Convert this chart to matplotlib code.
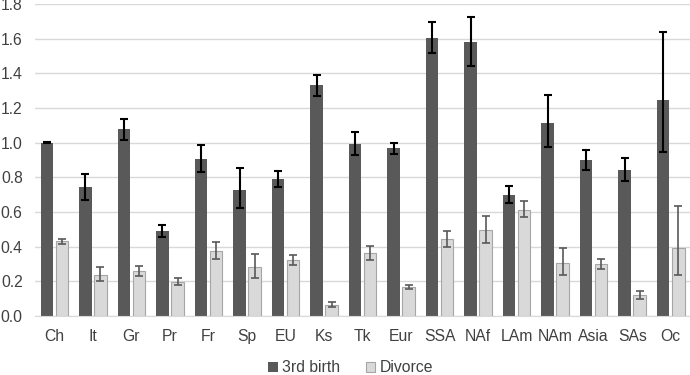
import numpy as np
import matplotlib
matplotlib.use("Agg")
import matplotlib.pyplot as plt

plt.rcParams['font.family'] = ['Liberation Sans', 'DejaVu Sans']

labels = ['Ch', 'It', 'Gr', 'Pr', 'Fr', 'Sp', 'EU', 'Ks', 'Tk', 'Eur',
          'SSA', 'NAf', 'LAm', 'NAm', 'Asia', 'SAs', 'Oc']

birth = [1.00, 0.743, 1.077, 0.492, 0.904, 0.729, 0.790, 1.331, 0.994, 0.969,
         1.602, 1.579, 0.698, 1.115, 0.900, 0.842, 1.246]
birth_lo = [0.997, 0.669, 1.015, 0.458, 0.829, 0.621, 0.745, 1.269, 0.929, 0.937,
            1.516, 1.444, 0.650, 0.977, 0.842, 0.779, 0.944]
birth_hi = [1.003, 0.819, 1.139, 0.525, 0.985, 0.852, 0.835, 1.393, 1.062, 1.000,
            1.694, 1.728, 0.752, 1.273, 0.958, 0.912, 1.640]

divorce = [0.431, 0.240, 0.262, 0.198, 0.373, 0.281, 0.321, 0.067, 0.362, 0.167,
           0.444, 0.496, 0.615, 0.304, 0.298, 0.119, 0.391]
divorce_lo = [0.417, 0.202, 0.233, 0.177, 0.329, 0.218, 0.294, 0.054, 0.323, 0.158,
              0.398, 0.423, 0.569, 0.237, 0.269, 0.098, 0.237]
divorce_hi = [0.444, 0.284, 0.292, 0.221, 0.425, 0.360, 0.350, 0.081, 0.402, 0.179,
              0.492, 0.577, 0.665, 0.392, 0.331, 0.144, 0.637]

x = np.arange(len(labels))
b = np.array(birth)
d = np.array(divorce)
b_err = [b - np.array(birth_lo), np.array(birth_hi) - b]
d_err = [d - np.array(divorce_lo), np.array(divorce_hi) - d]

fig = plt.figure(figsize=(6.9, 3.75), dpi=100)
ax = fig.add_axes([0.051, 0.157, 0.949, 0.832])

w = 0.325
ax.bar(x - 0.195, b, w, color='#595959', label='3rd birth', zorder=2,
       yerr=b_err, error_kw=dict(ecolor='black', elinewidth=1.5, capsize=2.8, capthick=1.5))
ax.bar(x + 0.195, d, w, color='#d9d9d9', edgecolor='#a6a6a6', linewidth=0.8,
       label='Divorce', zorder=2,
       yerr=d_err, error_kw=dict(ecolor='#595959', elinewidth=1.2, capsize=2.8, capthick=1.2))

ax.set_xlim(-0.5, len(labels) - 0.5)
ax.set_ylim(0, 1.8)
ax.set_yticks(np.arange(0, 1.81, 0.2))
ax.set_yticklabels([f'{v:.1f}' for v in np.arange(0, 1.81, 0.2)])
ax.set_xticks(x)
ax.set_xticklabels(labels)
ax.tick_params(axis='both', length=0, labelsize=11.3, colors='#404040')
ax.tick_params(axis='x', pad=9)
ax.tick_params(axis='y', pad=9)
ax.grid(axis='y', color='#d9d9d9', linewidth=1, zorder=0)
for s in ['top', 'right', 'left']:
    ax.spines[s].set_visible(False)
ax.spines['bottom'].set_color('#d9d9d9')

ax.legend(loc='center', bbox_to_anchor=(0.482, -0.166), ncol=2, frameon=False,
          fontsize=11.3, handlelength=0.6, handleheight=0.6, handletextpad=0.3,
          columnspacing=1.6, labelcolor='#404040')

fig.savefig('out.png', dpi=100)
